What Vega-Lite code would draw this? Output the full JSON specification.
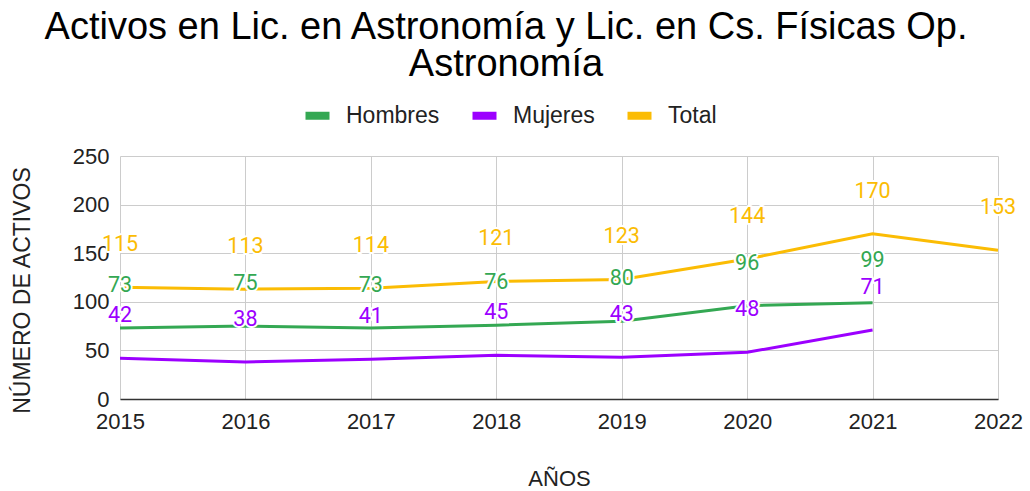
{
  "$schema": "https://vega.github.io/schema/vega-lite/v6.json",
  "autosize": "none",
  "width": 878,
  "height": 243,
  "padding": {"left": 120, "top": 156, "right": 32, "bottom": 92},
  "background": "white",
  "title": {
    "text": ["Activos en Lic. en Astronomía y Lic. en Cs. Físicas Op.", "Astronomía"],
    "font": "Liberation Sans",
    "fontSize": 38,
    "fontWeight": "normal",
    "color": "#000000",
    "anchor": "middle",
    "dx": -53,
    "offset": 20,
    "lineHeight": 37
  },
  "config": {
    "view": {"stroke": null},
    "axis": {
      "labelFont": "Liberation Sans",
      "titleFont": "Liberation Sans",
      "labelFontSize": 22,
      "titleFontSize": 22,
      "labelColor": "#222222",
      "titleColor": "#222222",
      "titleFontWeight": "normal",
      "gridColor": "#cccccc",
      "gridWidth": 1,
      "ticks": false
    },
    "legend": {
      "labelFont": "Liberation Sans",
      "labelFontSize": 23,
      "labelColor": "#222222"
    }
  },
  "data": {
    "values": [
      {"year": "2015", "serie": "Hombres", "value": 73},
      {"year": "2016", "serie": "Hombres", "value": 75},
      {"year": "2017", "serie": "Hombres", "value": 73},
      {"year": "2018", "serie": "Hombres", "value": 76},
      {"year": "2019", "serie": "Hombres", "value": 80},
      {"year": "2020", "serie": "Hombres", "value": 96},
      {"year": "2021", "serie": "Hombres", "value": 99},
      {"year": "2015", "serie": "Mujeres", "value": 42},
      {"year": "2016", "serie": "Mujeres", "value": 38},
      {"year": "2017", "serie": "Mujeres", "value": 41},
      {"year": "2018", "serie": "Mujeres", "value": 45},
      {"year": "2019", "serie": "Mujeres", "value": 43},
      {"year": "2020", "serie": "Mujeres", "value": 48},
      {"year": "2021", "serie": "Mujeres", "value": 71},
      {"year": "2015", "serie": "Total", "value": 115},
      {"year": "2016", "serie": "Total", "value": 113},
      {"year": "2017", "serie": "Total", "value": 114},
      {"year": "2018", "serie": "Total", "value": 121},
      {"year": "2019", "serie": "Total", "value": 123},
      {"year": "2020", "serie": "Total", "value": 144},
      {"year": "2021", "serie": "Total", "value": 170},
      {"year": "2022", "serie": "Total", "value": 153}
    ]
  },
  "encoding": {
    "x": {
      "field": "year",
      "type": "ordinal",
      "scale": {"type": "point", "padding": 0},
      "axis": {
        "title": "AÑOS",
        "labelAngle": 0,
        "labelPadding": 12,
        "titlePadding": 36,
        "grid": true,
        "domainColor": "#333333",
        "domainWidth": 1.5
      }
    },
    "y": {
      "field": "value",
      "type": "quantitative",
      "scale": {"domain": [0, 250]},
      "axis": {
        "title": "NÚMERO DE ACTIVOS",
        "titleFontSize": 23,
        "values": [0, 50, 100, 150, 200, 250],
        "labelPadding": 11,
        "titlePadding": 38,
        "titleY": 134,
        "domain": false
      }
    },
    "color": {
      "field": "serie",
      "type": "nominal",
      "scale": {"domain": ["Hombres", "Mujeres", "Total"], "range": ["#34A853", "#9C00FF", "#FBBC04"]},
      "legend": {
        "title": null,
        "orient": "none",
        "direction": "horizontal",
        "legendX": 186,
        "legendY": -52,
        "symbolType": "M-3,-1H3V1H-3Z",
        "symbolSize": 64,
        "symbolOpacity": 1,
        "symbolStrokeWidth": 0,
        "labelOffset": 17,
        "columnPadding": 32
      }
    }
  },
  "layer": [
    {"mark": {"type": "line", "strokeWidth": 3}},
    {
      "mark": {"type": "text", "dy": -42, "font": "Roboto", "fontSize": 21.5, "stroke": "white", "strokeWidth": 4, "strokeJoin": "round", "fill": "white"},
      "encoding": {"text": {"field": "value", "type": "quantitative"}, "color": {"value": "white"}}
    },
    {
      "mark": {"type": "text", "dy": -42, "font": "Roboto", "fontSize": 21.5},
      "encoding": {"text": {"field": "value", "type": "quantitative"}}
    }
  ]
}
